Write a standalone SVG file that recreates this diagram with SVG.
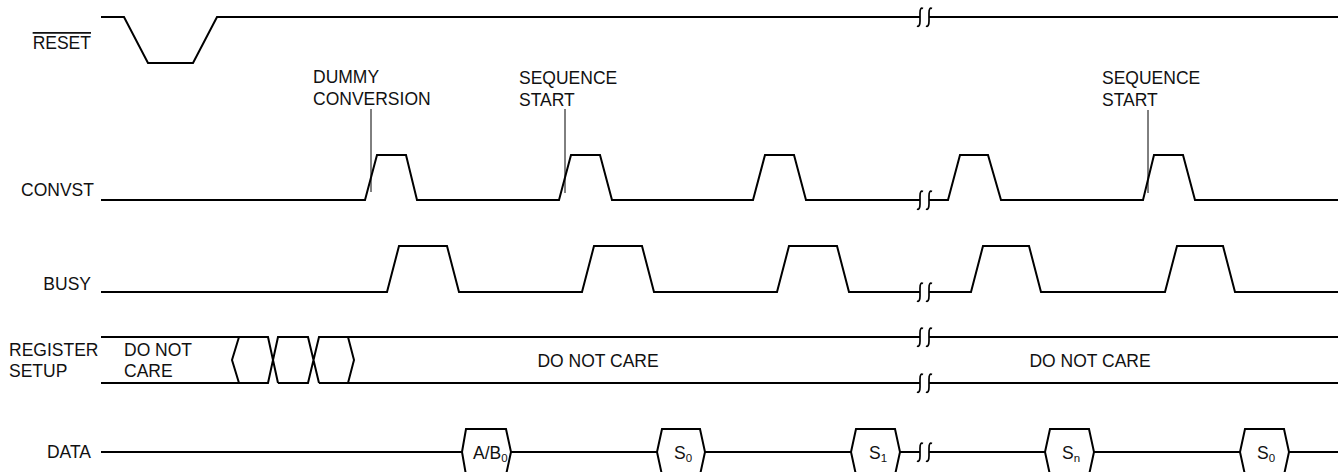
<svg xmlns="http://www.w3.org/2000/svg" xmlns:xlink="http://www.w3.org/1999/xlink" width="1342" height="472" viewBox="0 0 1342 472">
<style>
.sig{fill:none;stroke:#000;stroke-width:2;stroke-linejoin:miter}
.lead{fill:none;stroke:#000;stroke-width:1}
.brk{fill:none;stroke:#000;stroke-width:1.7}
text{font-family:"Liberation Sans",Arial,Helvetica,sans-serif;font-size:17.5px;fill:#111}
.lbl{text-anchor:end}
.mid{text-anchor:middle}
.sub{font-size:11.5px}
</style>
<defs>
<path id="brk" class="brk" d="M-8,9 C-6,10 -5,8 -5,4 L-5,-4 C-5,-8 -4,-9.5 -2,-8.5 M1,9 C3,10 4,8 4,4 L4,-4 C4,-8 5,-9.5 7,-8.5"/>
</defs>
<rect width="1342" height="472" fill="#fff"/>

<g id="reset">
<text class="lbl" x="91" y="49" text-decoration="overline">RESET</text>
<path class="sig" d="M101,17 H124 L148,63 H193 L217,17 H920 M929,17 H1338"/>
<use xlink:href="#brk" x="925" y="17"/>
</g>

<g id="convst">
<text class="lbl" x="94" y="196">CONVST</text>
<path class="sig" d="M101,200 H365 L377,155 H406 L417,200 H559 L571,155 H600 L612,200 H753 L765,155 H794 L806,200 H920 M929,200 H948 L960,155 H988 L1001,200 H1143 L1154,155 H1183 L1195,200 H1338"/>
<use xlink:href="#brk" x="925" y="200"/>
</g>

<g id="busy">
<text class="lbl" x="91" y="290">BUSY</text>
<path class="sig" d="M101,292 H387 L399,246 H447 L459,292 H582 L594,246 H642 L654,292 H777 L789,246 H837 L849,292 H920 M929,292 H971 L983,246 H1029 L1041,292 H1165 L1177,246 H1223 L1235,292 H1338"/>
<use xlink:href="#brk" x="925" y="292"/>
</g>

<g id="register-setup">
<text x="9" y="356">REGISTER</text>
<text x="9" y="377">SETUP</text>
<text x="124" y="356">DO NOT</text>
<text x="124" y="377">CARE</text>
<path class="sig" d="M101,337 H268 L278,383 M101,383 H268 L278,337 H308 L319,383 M278,383 H308 L319,337 H920 M319,383 H920 M929,337 H1338 M929,383 H1338 M239,337 L232,360 L239,383 M348,337 L354,360 L348,383"/>
<use xlink:href="#brk" x="925" y="337"/>
<use xlink:href="#brk" x="925" y="383"/>
<text class="mid" x="598" y="367">DO NOT CARE</text>
<text class="mid" x="1090" y="367">DO NOT CARE</text>
</g>

<g id="data">
<text class="lbl" x="91" y="458">DATA</text>
<path class="sig" d="M101,452 H462 M511,452 H657 M705,452 H851 M900,452 H920 M929,452 H1045 M1094,452 H1240 M1289,452 H1338"/>
<path class="sig" d="M462,452 L466,429 H506 L511,452 L506,475 H466 Z"/>
<path class="sig" d="M657,452 L662,429 H700 L705,452 L700,475 H662 Z"/>
<path class="sig" d="M851,452 L856,429 H895 L900,452 L895,475 H856 Z"/>
<path class="sig" d="M1045,452 L1050,429 H1089 L1094,452 L1089,475 H1050 Z"/>
<path class="sig" d="M1240,452 L1245,429 H1284 L1289,452 L1284,475 H1245 Z"/>
<use xlink:href="#brk" x="925" y="452"/>
<text x="473" y="459">A/B<tspan class="sub" dy="3">0</tspan></text>
<text x="674" y="459">S<tspan class="sub" dy="3">0</tspan></text>
<text x="869" y="459">S<tspan class="sub" dy="3">1</tspan></text>
<text x="1062" y="459">S<tspan class="sub" dy="3">n</tspan></text>
<text x="1257" y="459">S<tspan class="sub" dy="3">0</tspan></text>
</g>

<g id="annotations">
<text x="313" y="83">DUMMY</text>
<text x="313" y="105">CONVERSION</text>
<text x="519" y="84">SEQUENCE</text>
<text x="519" y="106">START</text>
<text x="1102" y="84">SEQUENCE</text>
<text x="1102" y="106">START</text>
</g>

<g id="connectors">
<line class="lead" x1="371" y1="109" x2="371" y2="192"/>
<line class="lead" x1="565" y1="109" x2="565" y2="193"/>
<line class="lead" x1="1148" y1="110" x2="1148" y2="193"/>
</g>
</svg>
